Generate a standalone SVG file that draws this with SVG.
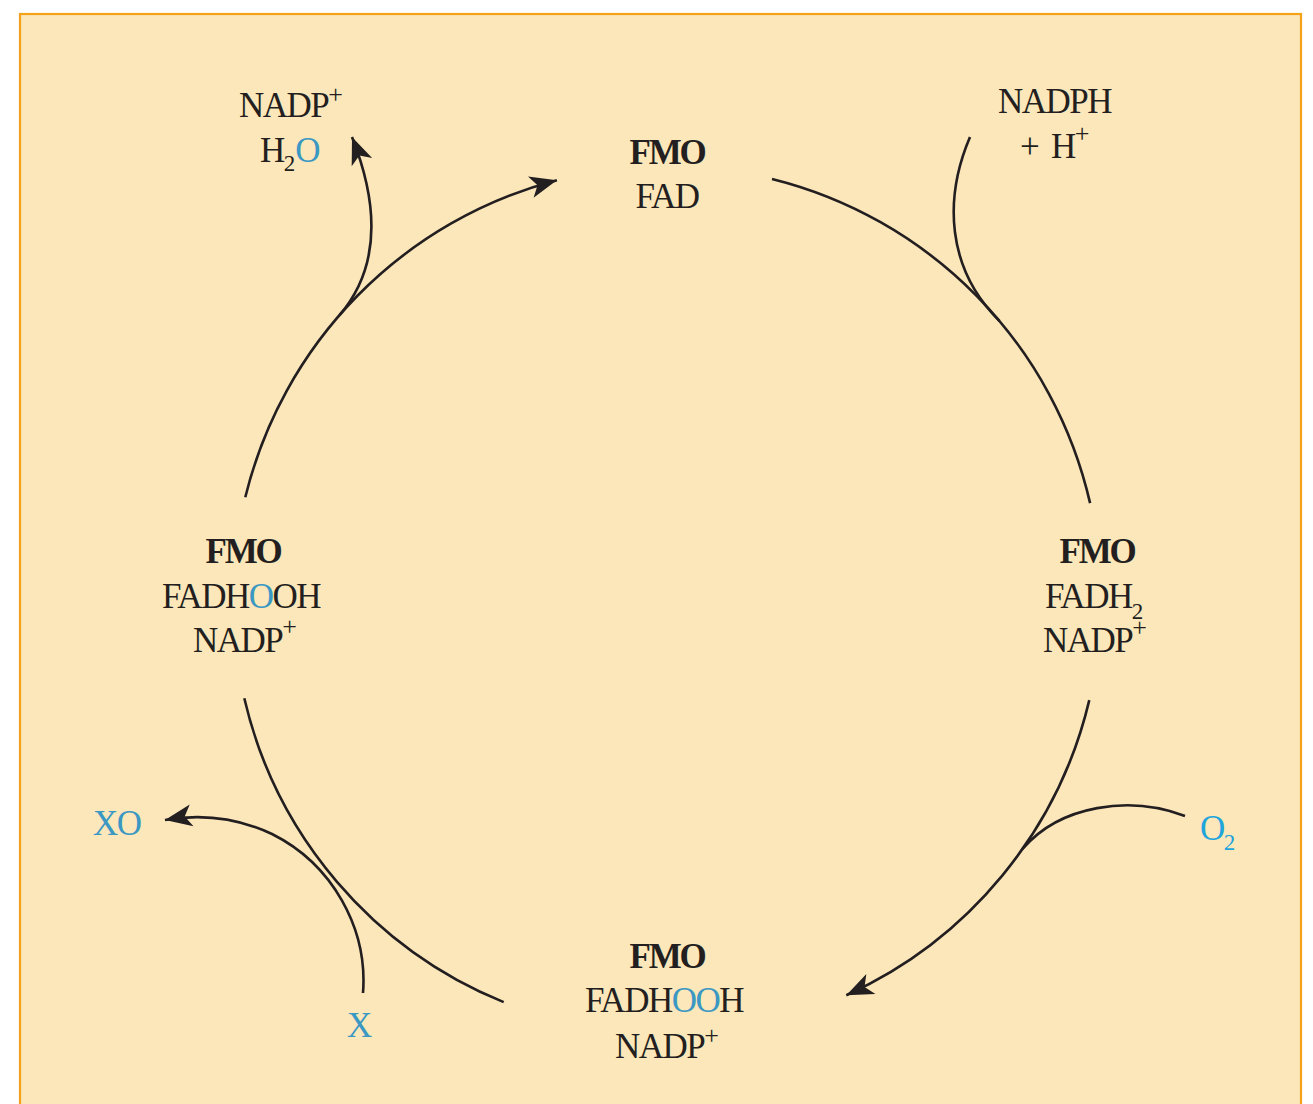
<svg xmlns="http://www.w3.org/2000/svg" width="1313" height="1104" viewBox="0 0 1313 1104">
  <style>
    text { font-family: "Liberation Serif", "Times New Roman", serif; font-size: 35px; fill: #231f20; letter-spacing: -1.5px; }
    .b { font-weight: bold; letter-spacing: -2.2px; }
    .m { text-anchor: middle; }
    .blue { fill: #3a98c3; }
    .cyan { fill: #1ea5dc; }
    .sup { font-size: 26px; letter-spacing: 0; }
    .sub { font-size: 23px; letter-spacing: 0; }
    .line { fill: none; stroke: #231f20; stroke-width: 2.6; }
  </style>
  <defs>
    <marker id="ah" viewBox="-29 -13 31 26" refX="0" refY="0" markerWidth="31" markerHeight="26" markerUnits="userSpaceOnUse" orient="auto">
      <path d="M0,0 L-27,-11 L-20,0 L-27,11 Z" fill="#231f20"/>
    </marker>
  </defs>

  <!-- panel -->
  <rect width="1313" height="1104" fill="#ffffff"/>
  <rect x="20" y="14" width="1281" height="1110" fill="#fce7ba" stroke="#f5a21b" stroke-width="2.2"/>

  <!-- connectors -->
  <g id="connectors">
    <!-- main cycle: quarter arcs of a circle centred at (667,600), r=434 -->
    <path class="line" d="M772,178.9 A434,434 0 0 1 1090.1,503.1"/>
    <path class="line" d="M1089.3,700.1 A434,434 0 0 1 846.3,995.2" marker-end="url(#ah)"/>
    <path class="line" d="M503.7,1002.1 A434,434 0 0 1 244.3,698.3"/>
    <path class="line" d="M245.3,497.2 A434,434 0 0 1 556.9,180.2" marker-end="url(#ah)"/>
    <!-- NADPH + H+ enters -->
    <path class="line" d="M970,137 C944,198 946,268 999.5,321"/>
    <!-- NADP+ / H2O leave -->
    <path class="line" d="M339.5,315.2 C368,282 388,228 352,137" marker-end="url(#ah)"/>
    <!-- O2 enters -->
    <path class="line" d="M1185,816 C1130,795 1060,805 1022.5,849"/>
    <!-- X in, XO out -->
    <path class="line" d="M363,993 C368,928 332,864 272,834 C240,819 205,813 165,820" marker-end="url(#ah)"/>
  </g>

  <!-- FMO . FAD -->
  <g id="node-fad">
    <text class="b m" x="667" y="164">FMO</text>
    <text class="m" x="667" y="208">FAD</text>
  </g>

  <!-- FMO . FADH2 . NADP+ -->
  <g id="node-fadh2">
    <text class="b m" x="1097" y="563">FMO</text>
    <text x="1045" y="608">FADH<tspan class="sub" y="619">2</tspan></text>
    <text x="1043" y="652">NADP<tspan class="sup" y="636">+</tspan></text>
  </g>

  <!-- FMO . FADHOOH . NADP+ (bottom) -->
  <g id="node-fadhooh">
    <text class="b m" x="667" y="968">FMO</text>
    <text x="585" y="1012">FADH<tspan class="blue">OO</tspan>H</text>
    <text x="615" y="1058">NADP<tspan class="sup" y="1044">+</tspan></text>
  </g>

  <!-- FMO . FADHOOH . NADP+ (left) -->
  <g id="node-fadhooh-2">
    <text class="b m" x="243" y="563">FMO</text>
    <text x="162" y="608">FADH<tspan class="blue">O</tspan>OH</text>
    <text x="193" y="652">NADP<tspan class="sup" y="635">+</tspan></text>
  </g>

  <!-- cofactors and substrates -->
  <g id="nadph">
    <text x="998" y="113">NADPH</text>
    <text x="1020" y="158">+</text>
    <text x="1051" y="158">H<tspan class="sup" y="142">+</tspan></text>
  </g>
  <g id="nadp-h2o">
    <text x="239" y="117">NADP<tspan class="sup" y="103">+</tspan></text>
    <text x="260" y="162">H<tspan class="sub" y="171">2</tspan><tspan class="blue" y="162">O</tspan></text>
  </g>
  <g id="o2">
    <text class="cyan" x="1200" y="840">O<tspan class="sub cyan" y="850">2</tspan></text>
  </g>
  <g id="xo">
    <text class="blue" x="93" y="835">XO</text>
  </g>
  <g id="x">
    <text class="blue" x="347" y="1037">X</text>
  </g>
</svg>
